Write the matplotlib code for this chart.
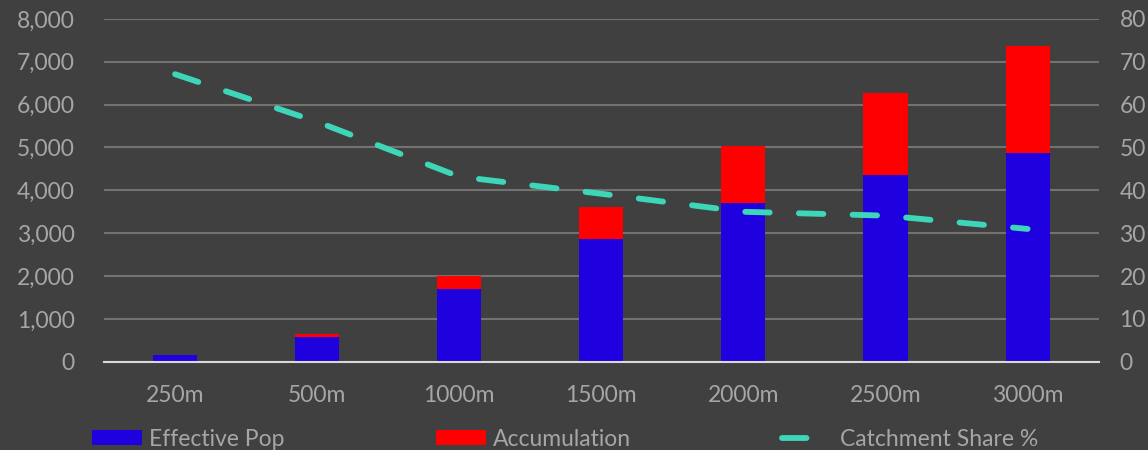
import matplotlib.pyplot as plt
import numpy as np
from matplotlib.ticker import FuncFormatter

plt.rcParams['font.family'] = ['Lato', 'DejaVu Sans']

categories = ['250m', '500m', '1000m', '1500m', '2000m', '2500m', '3000m']
effective_pop = [170, 585, 1700, 2865, 3705, 4350, 4865]
accumulation = [0, 55, 310, 755, 1340, 1930, 2510]
catchment_share = [67.1, 56.0, 43.2, 39.2, 35.0, 34.1, 31.0]

bg = '#404040'
txt = '#a6a6a6'

fig = plt.figure(figsize=(11.48, 4.5), dpi=100, facecolor=bg)
ax = fig.add_axes([0.0906, 0.196, 0.8664, 0.762])
ax.set_facecolor(bg)
ax2 = ax.twinx()

x = np.arange(len(categories))
ax.bar(x, effective_pop, width=0.31, color='#1f00de', label='Effective Pop', zorder=3)
ax.bar(x, accumulation, width=0.31, bottom=effective_pop, color='#ff0000',
       label='Accumulation', zorder=3)
ax2.plot(x, catchment_share, color='#3ed6b8', lw=4.2, dashes=(4.2, 5.0),
         dash_capstyle='round', label='Catchment Share %')

ax.set_xlim(-0.5, len(categories) - 0.5)
ax.set_ylim(0, 8000)
ax2.set_ylim(0, 80)
ax.set_yticks(np.arange(0, 8001, 1000))
ax2.set_yticks(np.arange(0, 81, 10))
ax.yaxis.set_major_formatter(FuncFormatter(lambda v, p: f'{int(v):,}'))
ax.set_xticks(x)
ax.set_xticklabels(categories)

ax.grid(axis='y', color='#767171', lw=1.5, zorder=0)
for a in (ax, ax2):
    for s in a.spines.values():
        s.set_visible(False)
    a.tick_params(length=0, colors=txt, labelsize=16.5)
ax.spines['bottom'].set_visible(True)
ax.spines['bottom'].set_color('#d9d9d9')
ax.spines['bottom'].set_linewidth(1.5)
ax.spines['bottom'].set_zorder(4)
ax.tick_params(axis='y', pad=21)
ax.tick_params(axis='x', pad=17)
ax2.tick_params(axis='y', pad=15)

h1, l1 = ax.get_legend_handles_labels()
h2, l2 = ax2.get_legend_handles_labels()
leg = fig.legend(h1 + h2, l1 + l2, loc='lower center', bbox_to_anchor=(0.492, -0.045),
                 ncol=3, frameon=False, fontsize=16.5, handlelength=2.2,
                 handleheight=0.6, columnspacing=6.6, handletextpad=0.3)
for t in leg.get_texts():
    t.set_color(txt)

fig.savefig('out.png', dpi=100, facecolor=bg)
